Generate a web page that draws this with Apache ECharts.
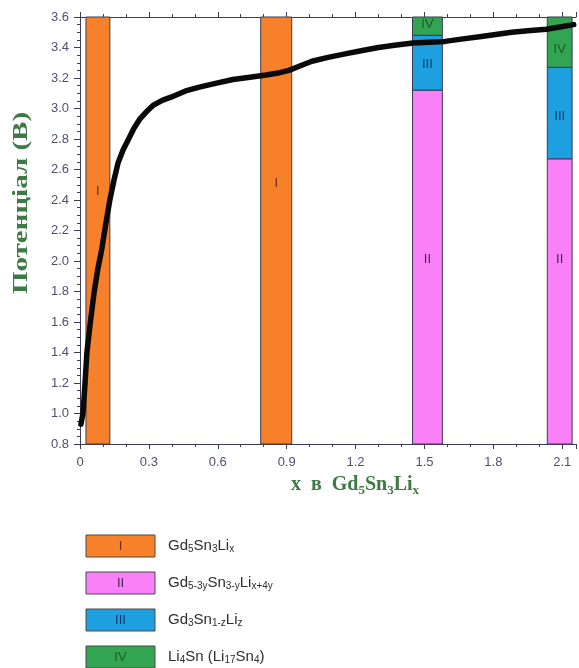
<!DOCTYPE html>
<html>
<head>
<meta charset="utf-8">
<script src="https://cdn.jsdelivr.net/npm/echarts@6/dist/echarts.min.js"></script>
<style>
  html, body { margin: 0; padding: 0; background: #fff; }
  #chart { width: 579px; height: 668px; }
</style>
</head>
<body>
<div id="chart"></div>
<script>
// Discharge curve: x in Gd5Sn3Lix vs potential (V)
const curveX = [0.004, 0.013, 0.022, 0.03, 0.046, 0.062, 0.078, 0.094, 0.112, 0.13, 0.148, 0.166, 0.188, 0.21, 0.235, 0.26, 0.29, 0.318, 0.36, 0.406, 0.46, 0.52, 0.59, 0.666, 0.74, 0.81, 0.87, 0.91, 0.96, 1.01, 1.08, 1.16, 1.23, 1.30, 1.37, 1.45, 1.52, 1.59, 1.66, 1.74, 1.81, 1.88, 1.95, 2.03, 2.09, 2.15];
const curveV = [0.93, 1.00, 1.20, 1.40, 1.61, 1.80, 1.95, 2.07, 2.24, 2.40, 2.53, 2.645, 2.73, 2.795, 2.87, 2.93, 2.98, 3.02, 3.055, 3.08, 3.115, 3.14, 3.165, 3.19, 3.205, 3.22, 3.235, 3.25, 3.28, 3.31, 3.335, 3.36, 3.38, 3.40, 3.415, 3.43, 3.435, 3.44, 3.455, 3.47, 3.485, 3.50, 3.51, 3.52, 3.535, 3.55];

// Phase regions: x range, potential range, phase index (0..3)
const regionX0 = [0.026, 0.787, 1.448, 1.448, 1.448, 2.035, 2.035, 2.035];
const regionX1 = [0.130, 0.922, 1.578, 1.578, 1.578, 2.143, 2.143, 2.143];
const regionV0 = [0.8, 0.8, 0.8, 3.12, 3.48, 0.8, 2.67, 3.27];
const regionV1 = [3.6, 3.6, 3.12, 3.48, 3.6, 2.67, 3.27, 3.6];
const regionPhase = [0, 0, 1, 2, 3, 1, 2, 3];
const regionLabelV = [2.455, 2.51, 2.01, 3.29, 3.55, 2.01, 2.95, 3.39];

// Phase names and Roman numerals
const phaseNumerals = ['I', 'II', 'III', 'IV'];
const phaseFormulas = [
  [['Gd', 'b'], ['5', 's'], ['Sn', 'b'], ['3', 's'], ['Li', 'b'], ['x', 's']],
  [['Gd', 'b'], ['5-3y', 's'], ['Sn', 'b'], ['3-y', 's'], ['Li', 'b'], ['x+4y', 's']],
  [['Gd', 'b'], ['3', 's'], ['Sn', 'b'], ['1-z', 's'], ['Li', 'b'], ['z', 's']],
  [['Li', 'b'], ['4', 's'], ['Sn (Li', 'b'], ['17', 's'], ['Sn', 'b'], ['4', 's'], [')', 'b']]
];

// Axis ticks
const xTickInterval = 0.3;
const yTickInterval = 0.2;

const phaseColors = ['#f7812b', '#fa80f8', '#1d9fe0', '#33a451'];
const numeralColors = ['#6b2a12', '#3e2457', '#1b3770', '#1d5a2c'];
const axisColor = '#3c3c58';
const tickLabelColor = '#4f5070';

const chart = echarts.init(document.getElementById('chart'), null, { renderer: 'canvas' });

const regionData = regionX0.map((x0, i) => [x0, regionX1[i], regionV0[i], regionV1[i], regionPhase[i], regionLabelV[i]]);

function richFormula(parts) {
  return parts.map(p => '{' + p[1] + '|' + p[0] + '}').join('');
}

// Legend boxes below the plot
const legendGraphics = [];
const legendTop = 535;
const legendStep = 37;
phaseNumerals.forEach((num, i) => {
  const y = legendTop + i * legendStep;
  legendGraphics.push({
    type: 'rect',
    shape: { x: 86, y: y, width: 69, height: 22 },
    style: { fill: phaseColors[i], stroke: '#4a4a4a', lineWidth: 1 }
  });
  legendGraphics.push({
    type: 'text',
    x: 120.5, y: y + 11,
    style: {
      text: num, fill: numeralColors[i], font: '13px "Liberation Sans", Arial, sans-serif',
      align: 'center', verticalAlign: 'middle'
    }
  });
  legendGraphics.push({
    type: 'text',
    x: 168, y: y + 11,
    style: {
      text: richFormula(phaseFormulas[i]),
      verticalAlign: 'middle',
      rich: {
        b: { fontSize: 15, fontFamily: '"Liberation Sans", Arial, sans-serif', fill: '#2e2e2e', verticalAlign: 'bottom' },
        s: { fontSize: 10, fontFamily: '"Liberation Sans", Arial, sans-serif', fill: '#2e2e2e', verticalAlign: 'bottom', padding: [0, 0, -1, 0] }
      }
    }
  });
});

const option = {
  animation: false,
  backgroundColor: '#ffffff',
  grid: { left: 80, right: 3, top: 17, bottom: 224, containLabel: false },
  xAxis: [
    {
      type: 'value', position: 'bottom', min: 0, max: 2.16, interval: xTickInterval,
      axisLine: { show: true, onZero: false, lineStyle: { color: axisColor, width: 1 } },
      axisTick: { show: true, inside: false, length: 5, lineStyle: { color: axisColor } },
      minorTick: { show: true, splitNumber: 3, length: 3, lineStyle: { color: axisColor } },
      axisLabel: {
        color: tickLabelColor, fontSize: 13, margin: 12, showMaxLabel: false,
        fontFamily: '"Liberation Sans", Arial, sans-serif',
        formatter: v => (v === 0 ? '0' : v.toFixed(1))
      },
      splitLine: { show: false }
    },
    {
      type: 'value', position: 'top', min: 0, max: 2.16, interval: xTickInterval,
      axisLine: { show: true, onZero: false, lineStyle: { color: axisColor, width: 1 } },
      axisTick: { show: true, inside: false, length: 5, lineStyle: { color: axisColor } },
      minorTick: { show: true, splitNumber: 3, length: 3, lineStyle: { color: axisColor } },
      axisLabel: { show: false },
      splitLine: { show: false }
    }
  ],
  yAxis: {
    type: 'value', min: 0.8, max: 3.6, interval: yTickInterval,
    axisLine: { show: true, onZero: false, lineStyle: { color: axisColor, width: 1 } },
    axisTick: { show: true, inside: false, length: 6, lineStyle: { color: axisColor } },
    minorTick: { show: true, splitNumber: 4, length: 3, lineStyle: { color: axisColor } },
    axisLabel: {
      color: tickLabelColor, fontSize: 13, margin: 11,
      fontFamily: '"Liberation Sans", Arial, sans-serif',
      formatter: v => v.toFixed(1)
    },
    splitLine: { show: false }
  },
  graphic: [
    {
      type: 'text',
      x: 22, y: 203,
      rotation: Math.PI / 2,
      scaleX: 1.45,
      style: {
        text: 'Потенціал (В)',
        font: 'bold 20px "Liberation Serif", "Times New Roman", serif',
        fill: '#3d7a45', align: 'center', verticalAlign: 'middle'
      }
    },
    {
      type: 'text',
      x: 355, y: 485,
      style: {
        text: '{b|x  в  Gd}{s|5}{b|Sn}{s|3}{b|Li}{s|x}',
        align: 'center', verticalAlign: 'middle',
        rich: {
          b: { fontSize: 20, fontWeight: 'bold', fontFamily: '"Liberation Serif", "Times New Roman", serif', fill: '#3d7a45', verticalAlign: 'bottom' },
          s: { fontSize: 13, fontWeight: 'bold', fontFamily: '"Liberation Serif", "Times New Roman", serif', fill: '#3d7a45', verticalAlign: 'bottom', padding: [0, 0, -2, 0] }
        }
      }
    }
  ].concat(legendGraphics),
  series: [
    {
      type: 'custom',
      xAxisIndex: 0,
      z: 2,
      renderItem: function (params, api) {
        const p0 = api.coord([api.value(0), api.value(3)]);
        const p1 = api.coord([api.value(1), api.value(2)]);
        const phase = api.value(4);
        const lp = api.coord([(api.value(0) + api.value(1)) / 2, api.value(5)]);
        return {
          type: 'group',
          children: [
            {
              type: 'rect',
              shape: { x: p0[0], y: p0[1], width: p1[0] - p0[0], height: p1[1] - p0[1] },
              style: { fill: phaseColors[phase], stroke: '#3a3a55', lineWidth: 1 }
            },
            {
              type: 'text',
              x: lp[0], y: lp[1],
              style: {
                text: phaseNumerals[phase], fill: numeralColors[phase],
                font: '13px "Liberation Sans", Arial, sans-serif',
                align: 'center', verticalAlign: 'middle'
              }
            }
          ]
        };
      },
      data: regionData
    },
    {
      type: 'line',
      xAxisIndex: 0,
      z: 5,
      smooth: false,
      showSymbol: false,
      symbol: 'none',
      lineStyle: { color: '#0a0a0a', width: 5.5, cap: 'round', join: 'round' },
      data: curveX.map((x, i) => [x, curveV[i]])
    }
  ]
};

chart.setOption(option);
</script>
</body>
</html>
